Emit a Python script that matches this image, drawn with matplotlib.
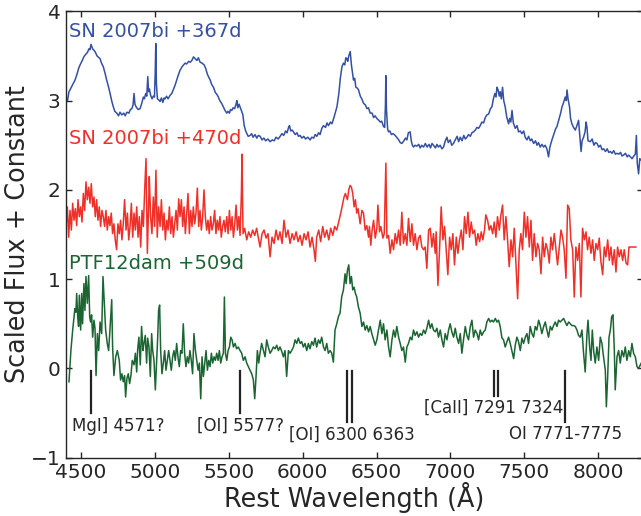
import matplotlib
matplotlib.use("Agg")
import matplotlib.pyplot as plt

# SN 2007bi +367d (blue): (rest wavelength, scaled flux)
blue_points = [
    (4400, 3.04), (4410, 3.00), (4420, 3.10), (4430, 3.13), (4445, 3.18), (4461, 3.23), (4475, 3.30),
    (4485, 3.36), (4495, 3.40), (4510, 3.45), (4520, 3.49), (4529, 3.51), (4545, 3.54), (4555, 3.58),
    (4562, 3.57), (4569, 3.63), (4580, 3.58), (4596, 3.55), (4610, 3.50), (4630, 3.47), (4640, 3.42),
    (4652, 3.38), (4665, 3.30), (4675, 3.23), (4688, 3.15), (4698, 3.08), (4710, 2.99), (4720, 2.93),
    (4730, 2.88), (4743, 2.86), (4755, 2.83), (4765, 2.87), (4777, 2.84), (4790, 2.86), (4800, 2.83),
    (4811, 2.87), (4825, 2.86), (4835, 2.90), (4845, 2.91), (4853, 2.95), (4860, 3.08), (4866, 2.96),
    (4874, 2.93), (4888, 2.90), (4901, 2.91), (4912, 2.97), (4923, 3.04), (4930, 3.02), (4939, 3.08),
    (4946, 3.05), (4953, 3.27), (4958, 3.10), (4964, 3.13), (4972, 3.06), (4982, 3.02), (4990, 3.05),
    (4998, 3.04), (5003, 3.30), (5007, 3.64), (5011, 3.20), (5018, 3.02), (5026, 3.01), (5036, 2.99),
    (5045, 3.03), (5055, 2.98), (5063, 3.03), (5070, 3.02), (5080, 3.05), (5090, 3.02), (5104, 3.06),
    (5115, 3.08), (5125, 3.12), (5137, 3.17), (5150, 3.24), (5160, 3.29), (5171, 3.34), (5185, 3.38),
    (5195, 3.40), (5205, 3.42), (5215, 3.41), (5230, 3.44), (5240, 3.43), (5251, 3.45), (5262, 3.49),
    (5273, 3.47), (5285, 3.45), (5295, 3.48), (5307, 3.43), (5320, 3.42), (5334, 3.40), (5345, 3.36),
    (5355, 3.30), (5363, 3.27), (5375, 3.23), (5385, 3.18), (5397, 3.15), (5410, 3.09), (5420, 3.07),
    (5430, 3.04), (5440, 3.00), (5452, 2.97), (5464, 2.93), (5475, 2.89), (5487, 2.86), (5495, 2.88),
    (5505, 2.86), (5512, 2.90), (5521, 2.89), (5530, 2.92), (5540, 2.91), (5550, 2.96), (5555, 3.00),
    (5562, 2.92), (5570, 2.96), (5577, 2.93), (5588, 2.88), (5596, 2.84), (5605, 2.72), (5615, 2.66),
    (5623, 2.63), (5632, 2.60), (5645, 2.61), (5655, 2.63), (5665, 2.59), (5678, 2.62), (5690, 2.58),
    (5700, 2.61), (5713, 2.60), (5725, 2.56), (5738, 2.58), (5750, 2.55), (5765, 2.57), (5780, 2.54),
    (5795, 2.56), (5808, 2.55), (5820, 2.59), (5835, 2.57), (5848, 2.60), (5860, 2.63), (5872, 2.61),
    (5885, 2.66), (5895, 2.64), (5905, 2.70), (5911, 2.72), (5920, 2.66), (5930, 2.67), (5938, 2.65),
    (5950, 2.62), (5962, 2.64), (5972, 2.60), (5983, 2.61), (5995, 2.58), (6008, 2.60), (6020, 2.57),
    (6035, 2.59), (6051, 2.56), (6062, 2.59), (6075, 2.58), (6085, 2.62), (6096, 2.60), (6108, 2.64),
    (6118, 2.62), (6130, 2.69), (6141, 2.72), (6155, 2.70), (6165, 2.75), (6175, 2.72), (6188, 2.76),
    (6198, 2.74), (6210, 2.80), (6220, 2.86), (6232, 2.93), (6245, 3.08), (6255, 3.25), (6266, 3.38),
    (6276, 3.42), (6285, 3.40), (6292, 3.48), (6299, 3.47), (6305, 3.44), (6312, 3.50), (6322, 3.55),
    (6330, 3.40), (6338, 3.30), (6344, 3.23), (6352, 3.25), (6360, 3.15), (6370, 3.14), (6378, 3.12),
    (6390, 3.05), (6400, 3.02), (6412, 2.97), (6425, 2.95), (6435, 2.91), (6445, 2.92), (6457, 2.86),
    (6470, 2.86), (6480, 2.81), (6490, 2.83), (6502, 2.80), (6515, 2.78), (6525, 2.76), (6535, 2.77),
    (6547, 2.71), (6555, 2.70), (6560, 2.95), (6563, 3.28), (6567, 2.90), (6575, 2.68), (6581, 2.65),
    (6590, 2.66), (6600, 2.62), (6612, 2.63), (6626, 2.61), (6640, 2.58), (6650, 2.56), (6660, 2.53),
    (6671, 2.52), (6685, 2.55), (6695, 2.58), (6705, 2.56), (6715, 2.64), (6727, 2.65), (6735, 2.55),
    (6742, 2.50), (6750, 2.48), (6760, 2.50), (6772, 2.49), (6785, 2.51), (6795, 2.47), (6805, 2.50),
    (6818, 2.48), (6830, 2.52), (6842, 2.48), (6855, 2.51), (6865, 2.47), (6875, 2.52), (6885, 2.50),
    (6898, 2.47), (6908, 2.51), (6918, 2.48), (6930, 2.50), (6942, 2.46), (6953, 2.48), (6965, 2.55),
    (6976, 2.59), (6985, 2.53), (6998, 2.56), (7008, 2.50), (7020, 2.52), (7032, 2.56), (7045, 2.60),
    (7055, 2.54), (7066, 2.59), (7078, 2.55), (7090, 2.61), (7100, 2.57), (7111, 2.59), (7122, 2.62),
    (7134, 2.60), (7145, 2.64), (7156, 2.65), (7168, 2.67), (7178, 2.70), (7190, 2.69), (7201, 2.72),
    (7212, 2.76), (7224, 2.75), (7235, 2.81), (7246, 2.84), (7258, 2.85), (7270, 2.91), (7280, 2.93),
    (7290, 3.02), (7300, 3.08), (7308, 3.04), (7314, 3.15), (7322, 3.12), (7330, 3.05), (7336, 3.10),
    (7344, 3.02), (7352, 3.15), (7360, 3.00), (7370, 2.93), (7380, 2.82), (7393, 2.74), (7400, 2.80),
    (7408, 2.76), (7416, 2.89), (7425, 2.75), (7438, 2.69), (7450, 2.72), (7460, 2.65), (7472, 2.66),
    (7483, 2.63), (7495, 2.66), (7505, 2.59), (7517, 2.56), (7528, 2.60), (7540, 2.55), (7550, 2.57),
    (7562, 2.52), (7575, 2.55), (7585, 2.50), (7595, 2.53), (7607, 2.48), (7618, 2.51), (7630, 2.48),
    (7640, 2.50), (7652, 2.46), (7663, 2.37), (7672, 2.48), (7686, 2.56), (7700, 2.63), (7710, 2.68),
    (7720, 2.71), (7735, 2.80), (7745, 2.86), (7754, 2.93), (7765, 2.98), (7776, 3.04), (7783, 3.00),
    (7788, 3.12), (7795, 3.02), (7805, 2.93), (7812, 2.80), (7821, 2.74), (7832, 2.70), (7844, 2.67),
    (7855, 2.72), (7866, 2.78), (7874, 2.62), (7883, 2.43), (7890, 2.55), (7900, 2.59), (7910, 2.65),
    (7917, 2.76), (7923, 2.70), (7930, 2.55), (7945, 2.54), (7958, 2.57), (7970, 2.50), (7980, 2.53),
    (7991, 2.52), (8002, 2.48), (8014, 2.50), (8025, 2.45), (8036, 2.46), (8048, 2.43), (8060, 2.46),
    (8070, 2.42), (8081, 2.43), (8092, 2.41), (8104, 2.44), (8115, 2.40), (8126, 2.41), (8138, 2.40),
    (8150, 2.42), (8160, 2.38), (8171, 2.39), (8183, 2.41), (8195, 2.37), (8205, 2.39), (8216, 2.37),
    (8228, 2.35), (8240, 2.38), (8250, 2.40), (8257, 2.61), (8263, 2.30), (8272, 2.18), (8280, 2.35),
    (8291, 2.33),
]

# SN 2007bi +470d (red)
red_wave = [4400, 4409, 4418, 4427, 4436, 4445, 4454, 4463, 4472, 4481, 4490, 4499, 4508, 4517, 4526,
            4535, 4544, 4553, 4562, 4571, 4580, 4589, 4598, 4607, 4616, 4625, 4634, 4643, 4652, 4661,
            4670, 4679, 4688, 4697, 4706, 4715, 4724, 4733, 4742, 4751, 4760, 4769, 4778, 4787, 4796,
            4806, 4815, 4824, 4833, 4842, 4851, 4860, 4869, 4878, 4887, 4896, 4905, 4914, 4923, 4932,
            4941, 4950, 4959, 4963, 4972, 4981, 4990, 4999, 5008, 5017, 5026, 5036, 5045, 5054, 5063,
            5072, 5081, 5090, 5099, 5108, 5117, 5126, 5135, 5144, 5153, 5162, 5171, 5180, 5189, 5198,
            5207, 5216, 5225, 5234, 5243, 5252, 5261, 5270, 5279, 5288, 5297, 5306, 5315, 5324, 5333,
            5342, 5351, 5360, 5369, 5378, 5387, 5396, 5405, 5414, 5423, 5432, 5441, 5450, 5459, 5468,
            5477, 5487, 5496, 5505, 5514, 5523, 5532, 5541, 5550, 5559, 5568, 5577, 5586, 5590, 5597,
            5608, 5622, 5635, 5649, 5662, 5676, 5689, 5703, 5712, 5726, 5739, 5753, 5766, 5780, 5793,
            5807, 5820, 5834, 5847, 5861, 5874, 5888, 5901, 5915, 5929, 5942, 5956, 5969, 5983, 5996,
            6010, 6023, 6037, 6050, 6064, 6077, 6086, 6095, 6109, 6122, 6136, 6149, 6163, 6177, 6190,
            6204, 6217, 6231, 6244, 6258, 6271, 6280, 6289, 6303, 6312, 6321, 6330, 6339, 6348, 6357,
            6366, 6375, 6389, 6401, 6412, 6423, 6434, 6446, 6452, 6461, 6470, 6480, 6491, 6502, 6509,
            6520, 6529, 6543, 6552, 6563, 6570, 6581, 6592, 6604, 6615, 6626, 6637, 6649, 6660, 6671,
            6682, 6694, 6705, 6716, 6728, 6739, 6750, 6761, 6773, 6784, 6795, 6806, 6818, 6829, 6840,
            6852, 6863, 6874, 6885, 6897, 6903, 6915, 6926, 6937, 6949, 6960, 6971, 6982, 6994, 7005,
            7016, 7027, 7039, 7050, 7061, 7073, 7084, 7095, 7106, 7118, 7129, 7140, 7151, 7163, 7174,
            7185, 7197, 7208, 7219, 7230, 7239, 7251, 7262, 7273, 7285, 7296, 7307, 7318, 7330, 7341,
            7352, 7363, 7375, 7386, 7397, 7409, 7420, 7431, 7442, 7454, 7465, 7476, 7487, 7499, 7510,
            7521, 7533, 7544, 7555, 7566, 7578, 7589, 7600, 7612, 7623, 7634, 7645, 7657, 7668, 7679,
            7690, 7702, 7713, 7724, 7736, 7747, 7758, 7769, 7781, 7792, 7803, 7814, 7826, 7837, 7848,
            7860, 7871, 7882, 7893, 7905, 7916, 7927, 7938, 7950, 7961, 7972, 7984, 7995, 8006, 8017,
            8029, 8040, 8051, 8063, 8074, 8085, 8096, 8108, 8119, 8130, 8141, 8153, 8164, 8175, 8187,
            8198, 8207, 8227, 8254]
red_flux = [1.59, 1.81, 1.47, 1.77, 1.55, 1.85, 1.66, 1.79, 1.60, 1.89, 1.70, 1.81, 1.64, 1.96, 1.77,
            2.09, 1.89, 2.03, 1.85, 2.07, 1.81, 1.92, 1.70, 1.89, 1.66, 1.81, 1.59, 1.77, 1.70, 1.59,
            1.77, 1.55, 1.70, 1.60, 1.74, 1.51, 1.62, 1.44, 1.33, 1.62, 1.51, 1.66, 1.44, 1.62, 1.89,
            1.55, 1.74, 1.44, 1.59, 1.85, 1.47, 1.74, 1.55, 1.81, 1.47, 1.70, 1.36, 1.77, 1.59, 2.00,
            2.35, 1.29, 1.85, 2.15, 1.70, 1.51, 1.92, 1.59, 2.22, 1.47, 1.81, 1.59, 1.89, 1.55, 1.74,
            1.44, 1.66, 1.55, 1.81, 1.51, 1.70, 1.47, 1.62, 1.77, 1.55, 1.90, 1.70, 1.89, 1.59, 1.81,
            1.51, 1.74, 1.96, 1.51, 1.77, 1.59, 1.81, 1.62, 1.74, 2.02, 1.59, 1.77, 1.55, 1.70, 2.00,
            1.70, 1.55, 1.66, 1.51, 1.70, 1.55, 1.62, 1.77, 1.51, 1.66, 1.55, 1.70, 1.47, 1.59, 1.66,
            1.53, 1.70, 1.51, 1.77, 1.55, 1.70, 1.47, 1.62, 1.83, 1.55, 1.70, 1.49, 1.96, 2.40, 1.51,
            1.57, 1.44, 1.53, 1.47, 1.55, 1.49, 1.57, 1.44, 1.36, 1.51, 1.55, 1.46, 1.51, 1.25, 1.47,
            1.40, 1.55, 1.44, 1.53, 1.40, 1.66, 1.47, 1.55, 1.40, 1.51, 1.44, 1.53, 1.42, 1.49, 1.38,
            1.51, 1.44, 1.53, 1.36, 1.47, 1.33, 1.20, 1.47, 1.55, 1.42, 1.59, 1.47, 1.55, 1.44, 1.57,
            1.49, 1.59, 1.55, 1.64, 1.74, 1.85, 1.92, 1.96, 1.89, 2.00, 2.05, 2.03, 1.96, 1.81, 1.89,
            1.74, 1.79, 1.62, 1.77, 1.74, 1.55, 1.60, 1.47, 1.59, 1.38, 1.55, 1.66, 1.46, 1.57, 1.83,
            1.53, 1.59, 1.46, 1.51, 2.30, 1.46, 1.49, 1.29, 1.44, 1.33, 1.51, 1.40, 1.55, 1.38, 1.75,
            1.40, 1.51, 1.38, 1.68, 1.42, 1.62, 1.38, 1.51, 1.33, 1.46, 1.49, 1.36, 1.33, 1.36, 1.12,
            1.55, 1.57, 1.36, 1.51, 1.29, 1.53, 0.93, 1.33, 1.81, 1.44, 1.59, 1.33, 1.05, 1.47, 1.33,
            1.51, 1.16, 1.47, 1.29, 1.44, 1.55, 1.33, 1.70, 1.51, 1.75, 1.47, 1.64, 1.51, 1.55, 1.38,
            1.51, 1.42, 1.53, 1.44, 1.55, 1.72, 1.66, 1.55, 1.60, 1.51, 1.64, 1.47, 1.70, 1.55, 1.72,
            1.83, 1.44, 1.70, 1.44, 1.14, 1.44, 1.25, 1.57, 1.18, 0.78, 1.33, 1.51, 1.33, 1.75, 1.47,
            1.70, 1.36, 1.66, 1.21, 1.51, 1.25, 1.40, 1.33, 1.06, 1.47, 1.25, 1.40, 1.33, 1.18, 1.47,
            1.33, 1.51, 1.34, 1.16, 1.36, 1.55, 1.47, 1.33, 1.01, 1.83, 1.79, 1.44, 1.33, 0.80, 1.36,
            1.21, 1.40, 0.80, 1.57, 1.44, 1.53, 1.33, 1.47, 1.29, 1.44, 1.21, 1.40, 1.33, 1.46, 1.20,
            1.05, 1.36, 1.25, 1.44, 1.21, 1.36, 1.16, 1.33, 1.08, 1.36, 1.25, 1.33, 1.21, 1.33, 1.18,
            1.16, 1.36, 1.36, 1.36]

# PTF12dam +509d (green)
green_wave = [4420, 4433, 4445, 4454, 4460, 4467, 4472, 4479, 4485, 4490, 4499, 4506, 4512, 4521, 4528,
              4535, 4544, 4553, 4560, 4566, 4573, 4580, 4589, 4596, 4603, 4612, 4621, 4630, 4641, 4650,
              4659, 4668, 4679, 4688, 4697, 4709, 4715, 4724, 4736, 4747, 4760, 4769, 4778, 4787, 4796,
              4803, 4812, 4821, 4830, 4839, 4848, 4860, 4869, 4878, 4884, 4893, 4902, 4911, 4920, 4927,
              4936, 4945, 4952, 4961, 4970, 4979, 4986, 4995, 5004, 5013, 5020, 5026, 5033, 5040, 5049,
              5058, 5067, 5076, 5085, 5094, 5103, 5112, 5121, 5130, 5139, 5148, 5157, 5166, 5175, 5184,
              5193, 5202, 5211, 5220, 5229, 5238, 5247, 5256, 5265, 5275, 5284, 5293, 5302, 5311, 5320,
              5329, 5338, 5347, 5356, 5365, 5374, 5383, 5392, 5401, 5410, 5419, 5428, 5437, 5446, 5455,
              5464, 5471, 5478, 5487, 5496, 5505, 5514, 5523, 5532, 5543, 5554, 5565, 5577, 5588, 5599,
              5611, 5622, 5633, 5644, 5656, 5667, 5676, 5685, 5694, 5703, 5712, 5723, 5735, 5746, 5757,
              5768, 5780, 5791, 5802, 5814, 5825, 5836, 5847, 5859, 5870, 5881, 5892, 5904, 5915, 5926,
              5938, 5949, 5960, 5971, 5983, 5994, 6005, 6016, 6028, 6039, 6050, 6062, 6073, 6084, 6095,
              6107, 6118, 6129, 6141, 6152, 6163, 6174, 6186, 6197, 6208, 6219, 6231, 6242, 6253, 6264,
              6276, 6287, 6294, 6303, 6312, 6321, 6330, 6339, 6348, 6357, 6366, 6377, 6389,
              6401, 6412, 6423, 6434, 6446, 6457, 6468, 6480, 6491, 6502, 6513, 6525, 6536, 6547, 6558,
              6570, 6581, 6592, 6604, 6615, 6626, 6637, 6649, 6660, 6671, 6682, 6694, 6705, 6716, 6728,
              6739, 6750, 6761, 6773, 6784, 6795, 6806, 6818, 6829, 6840, 6852, 6863, 6874, 6885, 6897,
              6908, 6919, 6931, 6942, 6953, 6964, 6976, 6987, 6998, 7009, 7021, 7032, 7043, 7055, 7066,
              7077, 7088, 7100, 7111, 7122, 7134, 7145, 7156, 7167, 7179, 7190, 7201, 7212, 7224, 7235,
              7246, 7258, 7269, 7280, 7291, 7303, 7314, 7325, 7336, 7348, 7359, 7370, 7382, 7393, 7404,
              7415, 7427, 7438, 7449, 7460, 7472, 7483, 7494, 7506, 7517, 7528, 7539, 7551, 7562, 7573,
              7584, 7596, 7607, 7618, 7630, 7641, 7652, 7663, 7675, 7686, 7697, 7708, 7720, 7731, 7742,
              7754, 7765, 7776, 7787, 7799, 7810, 7821, 7833, 7844, 7855, 7866, 7878, 7889, 7900, 7911,
              7923, 7930, 7941, 7950, 7959, 7968, 7979, 7990, 8002, 8013, 8024, 8035, 8047, 8054, 8063,
              8072, 8081, 8090, 8099, 8108, 8114, 8126, 8137, 8148, 8159, 8171, 8182, 8193, 8205, 8216,
              8227, 8238, 8250, 8261, 8272, 8284, 8290]
green_flux = [-0.15, 0.20, 0.43, 0.58, 0.67, 0.63, 0.84, 0.58, 0.47, 0.82, 0.43, 0.84, 0.50, 0.95, 0.65,
              1.03, 0.73, 1.04, 0.58, 0.52, 0.60, 0.35, 0.54, 0.45, -0.08, 0.39, 0.20, 0.52, 0.39, 1.03,
              0.73, 0.43, 0.28, 0.20, 0.43, 0.77, 0.24, -0.08, 0.13, 0.20, 0.09, -0.13, -0.06, -0.15, -0.08,
              -0.32, -0.11, -0.06, -0.17, -0.08, 0.09, 0.04, 0.17, -0.04, 0.20, 0.35, 0.04, 0.47, 0.20, 0.28,
              0.37, 0.06, 0.34, 0.24, -0.09, 0.39, 0.20, 0.09, -0.24, 0.09, 0.35, 0.65, 0.71, 0.20, -0.06,
              0.06, 0.20, -0.02, 0.09, 0.20, 0.09, -0.02, 0.13, 0.20, 0.09, 0.28, 0.13, 0.02, 0.20, 0.17,
              0.50, 0.17, 0.02, 0.13, 0.06, 0.20, 0.09, -0.06, 0.39, 0.20, 0.09, -0.02, 0.06, -0.34, 0.13,
              -0.09, 0.06, 0.20, -0.02, 0.09, 0.02, 0.17, 0.06, 0.13, 0.09, 0.17, 0.09, 0.20, 0.06, 0.13,
              0.17, 0.80, 0.17, 0.09, 0.20, 0.24, 0.35, 0.32, 0.24, 0.28, 0.22, 0.24, 0.20, 0.17, 0.09,
              0.13, 0.06, 0.02, -0.02, -0.06, -0.13, -0.34, -0.09, 0.20, 0.06, 0.17, 0.28, 0.20, 0.13, 0.32,
              0.24, 0.17, 0.20, 0.24, 0.22, 0.26, 0.20, 0.24, 0.19, 0.13, 0.20, -0.09, 0.20, 0.17, 0.20,
              0.24, 0.32, 0.28, 0.34, 0.28, 0.30, 0.24, 0.28, 0.20, 0.28, 0.22, 0.30, 0.26, 0.34, 0.24,
              0.32, 0.28, 0.35, 0.24, 0.20, 0.28, 0.17, 0.20, 0.17, 0.07, 0.43, 0.50, 0.58, 0.62, 0.80,
              0.88, 1.06, 0.95, 1.10, 1.16, 0.95, 1.03, 0.88, 0.91, 0.84, 0.80, 0.69, 0.62,
              0.47, 0.52, 0.43, 0.48, 0.41, 0.47, 0.39, 0.32, 0.26, 0.32, 0.43, 0.54, 0.39, 0.50, 0.32,
              0.43, 0.24, 0.13, 0.32, 0.43, 0.35, 0.47, 0.35, 0.28, 0.20, 0.24, 0.07, 0.24, 0.28, 0.35,
              0.32, 0.43, 0.37, 0.41, 0.35, 0.39, 0.37, 0.43, 0.39, 0.45, 0.54, 0.45, 0.50, 0.43, 0.41,
              0.45, 0.35, 0.43, 0.32, 0.24, 0.39, 0.32, 0.43, 0.50, 0.41, 0.35, 0.45, 0.35, 0.28, 0.39,
              0.17, 0.32, 0.47, 0.37, 0.32, 0.47, 0.54, 0.35, 0.43, 0.39, 0.32, 0.43, 0.37, 0.41, 0.43,
              0.52, 0.56, 0.52, 0.54, 0.52, 0.56, 0.52, 0.54, 0.47, 0.34, 0.32, 0.24, 0.30, 0.35, 0.28,
              0.20, 0.11, 0.26, 0.35, 0.30, 0.20, 0.34, 0.28, 0.35, 0.39, 0.28, 0.47, 0.39, 0.35, 0.47,
              0.43, 0.54, 0.48, 0.39, 0.47, 0.52, 0.43, 0.35, 0.47, 0.43, 0.48, 0.52, 0.47, 0.54, 0.52,
              0.54, 0.56, 0.52, 0.48, 0.52, 0.50, 0.48, 0.48, 0.47, 0.43, 0.37, 0.35, 0.43, 0.17, -0.04,
              0.39, 0.54, 0.24, 0.09, 0.43, 0.20, 0.06, 0.24, 0.09, 0.35, 0.28, 0.13, -0.02, -0.43, -0.09,
              0.35, 0.43, 0.58, 0.60, 0.20, -0.24, 0.13, 0.20, 0.06, 0.20, 0.13, 0.24, 0.09, 0.20, 0.13,
              0.28, 0.17, 0.13, 0.02, 0.00, 0.04, 0.06]

# line identifications
line_waves = [[4571], [5577], [6300, 6333], [7291, 7324], [7774]]
line_bottoms = [-0.50, -0.50, -0.60, -0.31, -0.60]
line_texts = ['MgI] 4571?', '[OI] 5577?', '[OI] 6300 6363', '[CaII] 7291 7324', 'OI 7771-7775']
text_x = [4752, 5577, 6330, 7294, 7776]
text_y = [-0.64, -0.64, -0.74, -0.44, -0.74]

spectra_labels = ['SN 2007bi +367d', 'SN 2007bi +470d', 'PTF12dam +509d']
label_y = [3.77, 2.58, 1.18]
colors = ['#3450a3', '#ef3029', '#1b6532']

blue_wave = [p[0] for p in blue_points]
blue_flux = [p[1] for p in blue_points]

fig = plt.figure(figsize=(6.41, 5.16), dpi=100)
ax = fig.add_axes([0.103, 0.113, 0.8997, 0.865])

ax.plot(blue_wave, blue_flux, color=colors[0], lw=1.1)
ax.plot(red_wave, red_flux, color=colors[1], lw=1.1)
ax.plot(green_wave, green_flux, color=colors[2], lw=1.1)

for lab, ly, c in zip(spectra_labels, label_y, colors):
    ax.text(4422, ly, lab, color=c, fontsize=14, ha='left', va='center')

for waves, yb, txt, tx, ty in zip(line_waves, line_bottoms, line_texts, text_x, text_y):
    for w in waves:
        ax.plot([w, w], [-0.03, yb], color='#222222', lw=1.6)
    ax.text(tx, ty, txt, fontsize=12, ha='center', va='center', color='#262626')

ax.set_xlim(4400, 8300)
ax.set_ylim(-1, 4)
ax.set_xticks([4500, 5000, 5500, 6000, 6500, 7000, 7500, 8000])
ax.set_yticks([-1, 0, 1, 2, 3, 4])
ax.tick_params(direction='in', top=True, right=True, length=4.5, width=1,
               labelsize=14.5, colors='#262626', pad=4)
ax.set_xlabel('Rest Wavelength (Å)', fontsize=18.4, color='#262626', labelpad=0)
ax.set_ylabel('Scaled Flux + Constant', fontsize=18.4, color='#262626', labelpad=0)
for s in ax.spines.values():
    s.set_color('#262626')
    s.set_linewidth(1.0)

fig.savefig('out.png', dpi=100)
